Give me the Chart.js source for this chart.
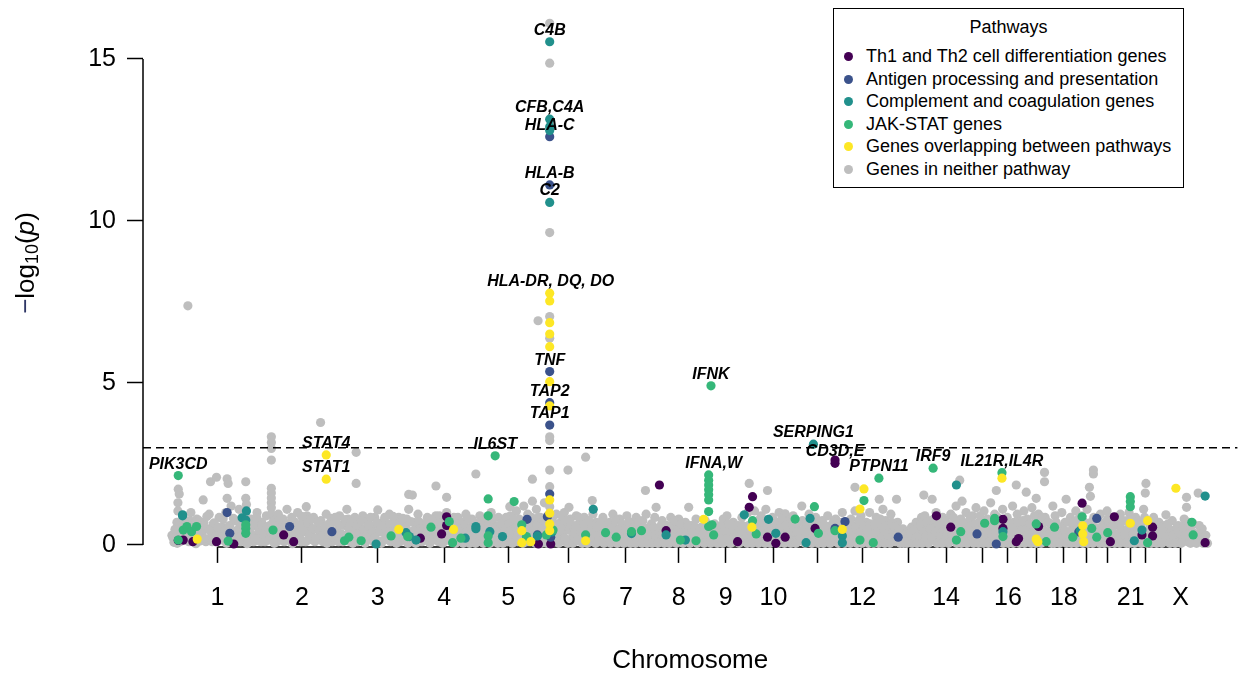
<!DOCTYPE html>
<html>
<head>
<meta charset="utf-8">
<script src="https://cdn.jsdelivr.net/npm/chart.js@4.4.1/dist/chart.umd.min.js"></script>
<style>
  html, body { margin:0; padding:0; background:#fff; }
  #wrap { position:relative; width:1242px; height:674px; }
  #legend { position:absolute; left:833px; top:8px; width:349px; height:178px; border:1.5px solid #000; background:#fff;
            font-family:"Liberation Sans", Arial, sans-serif; font-size:18px; color:#000; }
  #legend .title { position:absolute; left:0; width:100%; top:7px; text-align:center; line-height:22px; }
  #legend .row { position:absolute; left:0; height:22px; line-height:22px; white-space:nowrap; }
  #legend .dot { position:absolute; left:10px; top:7px; width:9px; height:9px; border-radius:50%; }
  #legend .txt { position:absolute; left:32px; top:0; }
</style>
</head>
<body>
<div id="wrap">
<canvas id="manhattan" width="1242" height="674"></canvas>
<div id="legend"></div>
</div>
<script>
// chromosome axis (cumulative genome position units)
const chromCentres = [131,385,613,813,1005,1188,1359,1518,1659,1803,1935,2070,2208,2322,2430,2508,2595,2676,2745,2808,2877,2922,3027];
const chromLabels = ["1","2","3","4","5","6","7","8","9","10","","12","","14","","16","","18","","","21","","X"];
const yTicks = [0,5,10,15];
const threshold = 3;

const pathwayNames = ["Th1 and Th2 cell differentiation genes","Antigen processing and presentation",
  "Complement and coagulation genes","JAK-STAT genes","Genes overlapping between pathways","Genes in neither pathway"];
const pathwayColours = ["#440154","#3B528B","#21908C","#35B779","#FDE725","#BEBEBE"];

// [position, -log10(p)]
const th1th2Genes = [[13,0.14],[28,0.15],[57,0.1],[128,0.1],[180,0.03],[330,0.31],[360,0.1],[741,0.21],[805,0.34],
  [820,0.87],[820,0.6],[1096,0.03],[1133,0.03],[1460,1.85],[1480,0.44],[1695,0.1],[1730,1.16],[1740,1.49],[1785,0.24],
  [1810,0.05],[1838,0.24],[1928,0.51],[1988,2.52],[1988,2.62],[2293,0.9],[2336,0.55],[2493,0.79],[2493,0.51],[2533,0.1],
  [2540,0.2],[2600,0.57],[2731,1.29],[2816,0.1],[2828,0.87],[2911,0.31],[2943,0.55],[2943,0.28],[3101,0.07]];
const antigenGenes = [[160,1.0],[168,0.36],[348,0.57],[475,0.41],[1062,0.79],[1093,0.31],[1133,0.24],[1123,0.87],
  [1130,12.6],[1130,11.11],[1130,5.35],[1130,4.39],[1130,3.7],[1130,1.57],[1988,0.51],[2018,0.72],[2178,0.24],
  [2415,0.34],[2473,0.03],[2721,0.4],[2775,0.82]];
const complementGenes = [[26,0.93],[26,0.9],[205,0.84],[218,1.05],[216,0.77],[608,0.03],[698,0.38],[708,0.26],[728,0.15],
  [876,0.21],[908,0.57],[908,0.5],[950,0.41],[988,0.26],[1093,0.28],[1137,0.4],[1130,15.53],[1130,13.14],[1130,12.91],
  [1130,12.79],[1130,10.57],[1261,1.1],[1376,0.35],[1480,0.31],[1538,0.15],[1715,0.93],[1788,0.79],[1810,0.36],
  [1901,0.07],[1913,0.82],[1923,3.11],[2010,0.28],[2010,0.07],[2353,1.85],[2493,0.41],[2726,0.45],[2888,0.13],
  [2911,0.46],[3101,1.51]];
const jakStatGenes = [[13,2.14],[13,0.15],[28,0.46],[39,0.57],[53,0.41],[68,0.57],[163,0.12],[216,0.51],[216,0.36],
  [216,0.62],[298,0.46],[513,0.13],[526,0.24],[563,0.13],[653,0.28],[703,0.26],[773,0.55],[828,0.72],[838,0.07],
  [863,0.21],[966,2.75],[945,1.42],[945,0.9],[945,0.28],[945,0.07],[1023,1.34],[1046,0.62],[1060,0.26],[1120,0.31],
  [1140,0.46],[1238,0.31],[1298,0.38],[1330,0.24],[1376,0.41],[1406,0.44],[1523,0.15],[1570,0.13],[1615,4.91],
  [1608,2.16],[1608,2.0],[1608,1.85],[1608,1.7],[1608,1.55],[1608,1.39],[1608,1.03],[1618,0.62],[1608,0.57],
  [1623,0.31],[1740,0.75],[1751,0.34],[1868,0.8],[1926,1.18],[1938,0.36],[1988,0.44],[2075,1.37],[2063,0.15],
  [2103,0.07],[2120,2.06],[2283,2.37],[2353,0.15],[2366,0.41],[2438,0.67],[2468,0.82],[2468,0.75],[2490,2.23],
  [2493,0.26],[2593,0.65],[2623,0.1],[2648,0.55],[2703,0.24],[2731,0.87],[2760,0.51],[2775,0.24],[2808,0.38],
  [2876,1.49],[2876,1.34],[2876,1.18],[2928,0.07],[3061,0.7],[3065,0.31]];
const overlapGenes = [[70,0.18],[458,2.78],[458,2.03],[676,0.48],[841,0.48],[1046,0.44],[1046,0.07],[1073,0.1],
  [1130,7.77],[1130,7.53],[1130,6.86],[1130,6.51],[1130,6.12],[1130,5.04],[1130,4.29],[1130,1.39],[1130,0.98],
  [1130,0.65],[1130,0.44],[1238,0.13],[1593,0.79],[1738,0.55],[2010,0.48],[2075,1.73],[2063,1.11],[2490,2.06],
  [2593,0.18],[2598,0.1],[2733,0.59],[2733,0.34],[2736,0.1],[2876,0.67],[2928,0.75],[3013,1.75]];

// genes in neither pathway, chromosomes 1-6
const otherGenesA = [[-6,0.3],[0,0.08],[6,0.35],[9,0.7],[12,1.05],[12,1.3],[13,1.72],[16,1.57],[15,0.5],[18,0.1],[24,0.3],
  [27,0.9],[30,0.62],[33,0.15],[39,0.45],[42,7.38],[45,0.1],[48,0.75],[51,1.0],[57,0.3],[60,0.55],[63,0.08],[69,0.8],
  [72,0.4],[78,0.12],[84,0.35],[88,1.39],[90,0.7],[96,0.1],[102,0.5],[106,0.95],[110,1.95],[112,0.25],[118,0.65],
  [124,0.1],[128,2.09],[130,0.4],[136,0.85],[140,0.15],[146,0.55],[150,0.3],[156,1.0],[160,2.04],[160,1.44],[163,1.9],
  [162,0.15],[168,0.6],[172,1.2],[176,0.3],[182,0.1],[186,0.75],[190,0.45],[196,1.1],[200,0.1],[204,0.6],[208,0.3],
  [214,0.9],[216,1.95],[216,1.44],[218,1.25],[222,0.12],[226,0.5],[232,0.8],[236,0.3],[240,0.1],[246,0.6],[250,1.0],
  [254,0.35],[258,0.12],[264,0.7],[268,0.45],[274,0.1],[278,0.9],[282,0.3],[288,0.6],[293,3.34],[293,3.16],[293,2.98],
  [293,2.62],[293,1.75],[293,1.6],[293,1.45],[293,1.3],[293,1.15],[293,0.95],[296,0.15],[300,0.75],[304,0.4],[310,0.1],
  [314,0.95],[318,0.55],[322,0.25],[328,0.8],[332,0.1],[336,0.45],[340,1.1],[346,0.65],[350,0.2],[354,0.85],[358,0.35],
  [364,0.1],[368,0.6],[372,1.0],[376,0.3],[382,0.1],[386,0.7],[392,0.4],[398,1.18],[400,0.9],[404,0.15],[410,0.55],
  [414,0.3],[420,0.85],[424,0.1],[430,0.5],[436,0.25],[441,3.78],[442,0.75],[448,0.1],[452,0.45],[458,0.95],[462,0.2],
  [466,0.65],[473,0.82],[476,0.1],[482,0.4],[488,0.7],[492,0.15],[498,0.9],[502,0.35],[508,0.1],[512,0.6],[518,0.3],
  [520,1.1],[524,0.8],[530,0.1],[536,0.5],[540,0.25],[544,0.85],[548,2.86],[548,1.9],[552,0.1],[556,0.6],[562,0.35],
  [568,0.9],[572,0.1],[578,0.45],[582,0.7],[588,0.2],[594,0.55],[600,0.1],[604,0.85],[608,0.35],[613,1.08],[616,0.6],
  [622,0.12],[626,0.4],[632,0.75],[636,0.2],[642,0.5],[648,0.95],[652,0.1],[656,0.35],[662,0.65],[666,0.15],[672,0.45],
  [676,0.85],[680,0.1],[686,0.3],[690,0.6],[696,0.15],[700,0.8],[706,1.56],[706,1.1],[710,0.4],[714,0.1],[717,1.54],
  [720,0.7],[724,0.25],[730,0.5],[734,0.95],[738,0.1],[744,0.35],[748,0.65],[754,0.15],[758,0.45],[762,0.85],[768,0.1],
  [772,0.3],[776,0.6],[782,0.2],[788,1.82],[788,0.9],[792,0.45],[796,0.1],[800,0.7],[806,0.3],[810,0.55],[814,0.12],
  [820,1.47],[820,1.0],[824,0.4],[830,0.75],[834,0.1],[840,0.3],[844,0.6],[850,0.15],[854,0.85],[858,0.45],[864,0.1],
  [868,0.7],[872,0.3],[878,0.95],[882,0.12],[886,0.5],[892,0.25],[896,0.8],[900,0.1],[904,0.4],[908,2.19],[910,0.65],
  [916,0.2],[920,0.9],[924,0.1],[928,0.5],[934,0.3],[938,0.75],[944,0.12],[948,0.45],[954,1.0],[958,0.2],[962,0.6],
  [968,0.1],[972,0.35],[976,0.85],[982,0.1],[986,0.5],[992,0.25],[996,0.75],[1002,0.1],[1006,0.4],[1010,1.18],[1012,0.9],
  [1016,0.15],[1020,0.6],[1026,0.3],[1030,1.05],[1034,0.1],[1038,0.8],[1042,0.45],[1048,0.15],[1052,1.2],[1054,0.65],
  [1058,0.3],[1064,0.95],[1068,0.1],[1072,0.5],[1078,2.03],[1078,1.35],[1080,0.75],[1084,0.2],[1090,1.1],[1094,0.4],
  [1098,0.12],[1102,0.85],[1106,0.6],[1110,0.25],[1114,1.3],[1116,0.1],[1120,0.5],[1124,0.9],
  [1130,16.1],[1130,14.87],[1130,9.64],[1130,7.05],[1095,6.92],[1130,6.38],[1130,3.34],[1130,3.22],[1130,2.31],
  [1130,1.8],[1130,1.18],[1130,0.75],
  [1136,0.3],[1140,0.65],[1146,0.1],[1150,0.95],[1154,0.4],[1160,0.15],[1164,0.7],[1170,0.3],[1174,1.0],[1178,0.1],
  [1182,0.5],[1185,2.31],[1188,1.16],[1192,0.8],[1196,0.2],[1202,0.55],[1206,0.1],[1210,0.9],[1216,0.35],[1220,0.65],
  [1226,0.12],[1230,0.45],[1234,0.85],[1238,2.71],[1240,0.25],[1246,0.6],[1250,0.1],[1254,0.4],[1258,1.37],[1260,0.95],
  [1266,0.15],[1270,0.7],[1274,0.35]];

// genes in neither pathway, chromosomes 7-X
const otherGenesB = [[1280,0.1],[1286,0.55],[1290,0.85],[1296,0.2],[1300,0.45],[1306,0.1],[1310,0.7],[1316,0.3],
  [1320,0.95],[1326,0.12],[1330,0.5],[1336,0.25],[1340,0.8],[1346,0.1],[1350,0.6],[1356,0.35],[1362,0.9],[1366,0.15],
  [1370,0.45],[1376,0.7],[1380,0.1],[1386,0.3],[1390,0.85],[1396,0.55],[1400,0.12],[1406,0.4],[1410,0.75],[1416,0.2],
  [1418,1.68],[1420,0.95],[1426,0.5],[1430,0.1],[1436,0.65],[1440,0.3],[1446,0.85],[1450,1.16],[1452,0.15],[1458,0.5],
  [1462,0.25],[1468,0.75],[1472,0.1],[1478,0.4],[1482,0.6],[1488,0.15],[1494,0.85],[1498,0.35],[1504,0.1],[1508,0.55],
  [1514,0.25],[1518,0.8],[1524,0.12],[1528,0.45],[1534,0.2],[1538,0.7],[1544,0.1],[1548,1.16],[1550,0.4],[1556,0.6],
  [1560,0.15],[1566,0.3],[1570,0.8],[1576,0.1],[1582,0.35],[1586,0.55],[1592,0.15],[1598,0.75],[1602,0.3],[1612,0.1],
  [1616,0.45],[1622,0.2],[1626,0.65],[1632,0.1],[1638,0.35],[1642,0.55],[1648,0.15],[1652,0.8],[1658,0.3],[1663,0.9],
  [1666,0.1],[1672,0.5],[1676,0.25],[1682,0.7],[1686,0.1],[1692,0.4],[1698,0.6],[1702,0.15],[1708,0.85],[1712,0.3],
  [1718,0.1],[1722,0.55],[1726,1.0],[1730,1.9],[1732,0.2],[1736,0.65],[1742,0.4],[1746,1.05],[1752,0.1],[1756,0.75],
  [1760,0.3],[1766,0.9],[1770,0.15],[1776,0.5],[1780,1.1],[1785,1.68],[1786,0.25],[1790,0.65],[1796,0.1],[1800,0.85],
  [1806,0.4],[1810,0.15],[1816,0.7],[1820,1.0],[1826,0.3],[1830,0.1],[1834,0.55],[1838,0.96],[1842,0.2],[1848,0.75],
  [1852,0.1],[1858,0.45],[1862,0.9],[1868,0.25],[1872,0.6],[1876,0.1],[1882,0.4],[1888,1.2],[1890,0.75],[1896,0.15],
  [1900,0.55],[1906,0.3],[1910,0.95],[1916,0.1],[1920,0.65],[1926,0.35],[1930,0.85],[1936,0.12],[1940,0.5],[1946,0.25],
  [1950,0.75],[1956,0.1],[1960,0.45],[1966,0.9],[1970,0.2],[1976,0.6],[1980,0.1],[1986,0.35],[1990,0.8],[1996,0.15],
  [2000,0.55],[2006,0.3],[2010,1.0],[2016,0.1],[2020,0.65],[2026,0.4],[2032,0.15],[2036,0.8],[2042,0.3],[2048,1.78],
  [2048,1.05],[2052,0.1],[2056,0.55],[2062,0.25],[2066,0.9],[2072,0.1],[2076,0.45],[2082,0.7],[2086,0.2],[2092,1.0],
  [2096,0.1],[2102,0.5],[2106,0.3],[2112,0.85],[2116,0.12],[2121,1.41],[2122,0.6],[2126,0.35],[2132,1.1],[2136,0.1],
  [2140,0.75],[2146,0.4],[2150,0.15],[2156,0.95],[2160,0.55],[2166,0.25],[2170,0.1],[2173,1.41],[2176,0.7],[2182,0.3],
  [2186,0.1],[2192,0.5],[2196,0.2],[2202,0.1],[2206,0.4],[2212,0.15],[2218,0.55],[2222,0.1],[2228,0.3],[2232,0.7],
  [2238,0.12],[2242,0.45],[2248,0.85],[2252,0.2],[2255,1.54],[2258,0.9],[2262,0.55],[2266,0.1],[2272,0.35],[2276,0.75],
  [2280,1.41],[2282,0.15],[2288,0.6],[2292,1.0],[2298,0.3],[2302,0.1],[2308,0.5],[2312,0.85],[2318,0.2],[2322,0.65],
  [2326,0.1],[2332,0.4],[2336,0.95],[2342,0.15],[2346,0.6],[2352,1.2],[2356,0.3],[2363,2.0],[2362,0.1],[2366,0.8],
  [2370,1.35],[2372,0.45],[2378,0.15],[2382,1.0],[2388,0.3],[2392,0.65],[2398,0.1],[2402,0.9],[2408,0.4],[2412,1.15],
  [2416,0.2],[2422,0.7],[2426,0.1],[2432,0.5],[2436,1.05],[2442,0.25],[2446,0.8],[2452,0.1],[2456,1.3],[2458,0.45],
  [2464,0.15],[2468,0.95],[2473,1.68],[2474,0.6],[2482,0.3],[2488,0.1],[2492,1.1],[2496,0.55],[2502,0.2],[2506,0.85],
  [2512,0.1],[2516,0.45],[2522,1.2],[2526,0.7],[2530,0.15],[2533,1.85],[2536,0.95],[2540,0.35],[2546,0.1],[2550,0.6],
  [2556,1.05],[2560,0.25],[2563,1.63],[2566,0.8],[2570,0.1],[2576,0.45],[2580,1.15],[2586,0.2],[2590,0.7],[2593,1.44],
  [2596,0.1],[2600,0.95],[2606,0.35],[2610,0.6],[2614,0.15],[2618,2.24],[2618,1.95],[2620,0.85],[2626,0.4],[2632,0.1],
  [2636,0.65],[2643,1.2],[2646,0.3],[2650,0.9],[2656,0.12],[2660,0.5],[2666,0.25],[2670,1.0],[2676,0.1],[2680,0.7],
  [2683,1.41],[2686,0.35],[2692,0.15],[2696,0.85],[2702,0.5],[2706,0.1],[2712,1.05],[2716,0.3],[2720,0.65],[2726,0.12],
  [2730,0.9],[2736,0.4],[2740,0.15],[2746,1.1],[2750,0.6],[2753,1.78],[2756,1.5],[2760,0.25],[2765,2.31],[2765,2.19],
  [2766,0.85],[2770,0.1],[2776,0.5],[2782,0.2],[2786,0.95],[2792,0.4],[2796,0.1],[2800,0.7],[2806,1.05],[2810,0.25],
  [2816,0.55],[2822,0.1],[2826,0.85],[2832,0.35],[2836,0.12],[2842,0.6],[2846,0.95],[2852,0.2],[2856,0.45],[2862,0.1],
  [2866,0.75],[2872,1.0],[2876,0.3],[2882,0.12],[2886,0.55],[2892,0.85],[2896,0.2],[2902,0.4],[2906,0.1],[2912,0.7],
  [2916,1.1],[2921,1.6],[2923,1.9],[2924,0.35],[2930,0.1],[2936,0.6],[2942,0.25],[2946,0.85],[2952,0.1],[2958,0.45],
  [2962,0.7],[2968,0.15],[2974,0.35],[2978,0.6],[2983,0.93],[2986,0.1],[2992,0.45],[2998,0.2],[3002,0.75],[3008,0.1],
  [3014,0.4],[3020,0.6],[3026,0.15],[3032,0.3],[3038,0.8],[3045,1.47],[3045,1.16],[3048,0.1],[3054,0.45],[3060,0.25],
  [3066,0.65],[3072,0.1],[3080,1.6],[3080,0.35],[3086,0.15],[3092,0.5],[3100,0.1]];

// more genes in neither pathway: the dense mass close to the axis
const otherGenesC = [[-3,0.22],[3,0.48],[10,0.05],[17,0.58],[21,0.33],[29,0.82],[35,0.15],[42,0.42],[50,0.65],[54,0.27],
  [62,0.52],[66,0.04],[75,0.75],[81,0.38],[87,0.6],[93,0.2],[99,0.88],[108,0.45],[115,0.1],[121,0.68],[127,0.3],[133,0.55],
  [143,0.22],[148,0.8],[154,0.45],[158,0.05],[165,0.58],[170,0.33],[179,0.82],[184,0.2],[193,0.42],[198,0.65],[202,0.27],
  [211,0.52],[220,0.04],[224,0.75],[229,0.38],[238,0.6],[243,0.2],[249,0.85],[256,0.45],[262,0.1],[266,0.6],[271,0.3],
  [280,0.55],[285,0.15],[291,0.4],[298,0.7],[302,0.05],[307,0.58],[312,0.33],[320,0.8],[325,0.15],[330,0.45],[338,0.65],
  [343,0.27],[348,0.5],[356,0.04],[361,0.72],[366,0.38],[375,0.6],[379,0.2],[384,0.88],[390,0.45],[396,0.1],[402,0.68],
  [407,0.3],[412,0.78],[418,0.5],[427,0.2],[433,0.7],[438,0.45],[445,0.28],[455,0.58],[460,0.05],[465,0.38],[470,0.62],
  [479,0.25],[485,0.85],[490,0.45],[495,0.1],[500,0.62],[506,0.3],[515,0.78],[522,0.15],[527,0.5],[533,0.7],[538,0.05],
  [546,0.4],[550,0.62],[559,0.22],[565,0.75],[570,0.48],[575,0.05],[580,0.3],[586,0.62],[591,0.85],[597,0.4],[603,0.22],
  [610,0.7],[619,0.45],[624,0.05],[629,0.6],[634,0.85],[639,0.3],[645,0.15],[650,0.65],[654,0.4],[659,0.88],[664,0.25],
  [669,0.05],[674,0.6],[683,0.45],[688,0.82],[693,0.25],[698,0.55],[703,0.05],[712,0.72],[716,0.3],[722,0.45],[727,0.05],
  [732,0.28],[736,0.72],[741,0.48],[746,0.1],[751,0.55],[756,0.3],[760,0.62],[765,0.45],[770,0.05],[775,0.8],[779,0.15],
  [785,0.45],[790,0.68],[794,0.25],[798,0.9],[803,0.5],[808,0.05],[812,0.78],[817,0.3],[822,0.62],[827,0.2],[832,0.5],
  [837,0.35],[842,0.85],[847,0.05],[852,0.4],[857,0.65],[861,0.25],[866,0.5],[870,0.05],[875,0.6],[880,0.4],[885,0.8],
  [889,0.05],[894,0.55],[898,0.3],[902,0.7],[907,0.05],[912,0.45],[918,0.55],[922,0.3],[926,0.75],[931,0.05],[936,0.52],
  [941,0.3],[946,0.65],[951,0.05],[956,0.4],[960,0.8],[965,0.25],[970,0.55],[974,0.05],[979,0.3],[984,0.65],[989,0.05],
  [994,0.45],[999,0.85],[1004,0.25],[1008,0.65],[1014,0.45],[1018,0.05],[1023,0.8],[1028,0.55],[1032,0.25],[1036,0.45],
  [1040,0.65],[1045,0.3],[1050,0.05],[1056,0.45],[1061,0.1],[1066,0.65],[1070,0.3],[1075,0.85],[1082,0.45],[1087,0.05],
  [1092,0.62],[1096,0.85],[1100,0.3],[1104,0.05],[1108,0.45],[1112,0.75],[1118,0.25],[1122,0.05],[1126,0.6],[1134,0.15],
  [1138,0.85],[1143,0.45],[1148,0.25],[1152,0.65],[1157,0.05],[1162,0.45],[1167,0.9],[1172,0.6],[1176,0.2],[1180,0.75],
  [1184,0.05],[1190,0.45],[1194,0.62],[1199,0.05],[1204,0.35],[1208,0.6],[1213,0.15],[1218,0.85],[1223,0.45],[1228,0.05],
  [1232,0.62],[1236,0.3],[1243,0.05],[1248,0.75],[1252,0.25],[1256,0.6],[1263,0.45],[1268,0.05],[1272,0.55],[1277,0.25],
  [1283,0.7],[1288,0.35],[1293,0.05],[1298,0.6],[1303,0.25],[1308,0.45],[1313,0.05],[1318,0.6],[1323,0.35],[1328,0.75],
  [1333,0.05],[1338,0.45],[1343,0.25],[1348,0.65],[1353,0.05],[1358,0.5],[1364,0.25],[1368,0.7],[1373,0.05],[1378,0.35],
  [1383,0.55],[1388,0.05],[1393,0.25],[1398,0.75],[1403,0.3],[1408,0.05],[1413,0.55],[1418,0.35],[1423,0.05],[1428,0.3],
  [1433,0.45],[1438,0.05],[1443,0.55],[1448,0.3],[1455,0.05],[1460,0.35],[1465,0.6],[1470,0.35],[1475,0.05],[1480,0.6],
  [1485,0.35],[1490,0.05],[1496,0.6],[1501,0.25],[1506,0.75],[1511,0.05],[1516,0.45],[1521,0.3],[1526,0.65],[1531,0.05],
  [1536,0.4],[1541,0.3],[1546,0.6],[1552,0.05],[1558,0.45],[1563,0.25],[1568,0.55],[1573,0.05],[1578,0.4],[1584,0.1],
  [1589,0.3],[1595,0.05],[1600,0.5],[1605,0.2],[1610,0.3],[1614,0.05],[1620,0.55],[1628,0.3],[1634,0.05],[1640,0.2],
  [1645,0.6],[1650,0.05],[1655,0.45],[1661,0.2],[1668,0.65],[1674,0.05],[1679,0.45],[1684,0.25],[1689,0.6],[1694,0.3],
  [1700,0.05],[1705,0.45],[1710,0.6],[1715,0.2],[1720,0.35],[1724,0.05],[1728,0.6],[1734,0.4],[1739,0.05],[1744,0.6],
  [1749,0.25],[1754,0.5],[1758,0.05],[1763,0.45],[1768,0.7],[1773,0.3],[1778,0.05],[1783,0.55],[1788,0.4],[1793,0.05],
  [1798,0.6],[1803,0.25],[1808,0.7],[1813,0.45],[1818,0.05],[1823,0.55],[1828,0.8],[1832,0.3],[1836,0.05],[1840,0.6],
  [1845,0.45],[1850,0.3],[1855,0.05],[1860,0.6],[1865,0.4],[1870,0.05],[1874,0.4],[1879,0.7],[1884,0.2],[1892,0.45],
  [1898,0.05],[1903,0.65],[1908,0.2],[1913,0.45],[1918,0.05],[1923,0.7],[1928,0.25],[1933,0.55],[1938,0.05],[1943,0.7],
  [1948,0.4],[1953,0.05],[1958,0.6],[1963,0.3],[1968,0.5],[1973,0.05],[1978,0.4],[1983,0.7],[1988,0.2],[1993,0.55],
  [1998,0.05],[2003,0.4],[2008,0.7],[2013,0.3],[2018,0.05],[2023,0.6],[2029,0.45],[2034,0.05],[2039,0.6],[2044,0.3],
  [2050,0.5],[2054,0.05],[2059,0.75],[2064,0.4],[2069,0.05],[2074,0.6],[2079,0.25],[2084,0.45],[2089,0.05],[2094,0.65],
  [2099,0.3],[2104,0.05],[2109,0.65],[2114,0.4],[2119,0.05],[2124,0.8],[2129,0.25],[2134,0.5],[2138,0.05],[2143,0.6],
  [2148,0.3],[2153,0.05],[2158,0.7],[2163,0.4],[2168,0.55],[2174,0.2],[2179,0.45],[2184,0.05],[2189,0.3],[2194,0.05],
  [2199,0.3],[2204,0.05],[2209,0.25],[2215,0.35],[2220,0.05],[2225,0.45],[2230,0.2],[2235,0.05],[2240,0.3],[2245,0.6],
  [2250,0.05],[2254,0.4],[2260,0.25],[2264,0.7],[2269,0.05],[2274,0.5],[2279,0.25],[2285,0.8],[2290,0.4],[2295,0.05],
  [2300,0.65],[2305,0.3],[2310,0.05],[2315,0.45],[2320,0.75],[2324,0.3],[2329,0.05],[2334,0.6],[2339,0.3],[2344,0.85],
  [2349,0.45],[2354,0.05],[2359,0.65],[2364,0.35],[2368,0.05],[2374,0.7],[2380,0.4],[2385,0.05],[2390,0.5],[2395,0.85],
  [2400,0.25],[2405,0.05],[2410,0.65],[2414,0.45],[2419,0.05],[2424,0.9],[2429,0.3],[2434,0.05],[2439,0.55],[2444,0.45],
  [2449,0.05],[2454,0.65],[2460,0.3],[2466,0.05],[2471,0.45],[2477,0.85],[2480,0.1],[2485,0.65],[2490,0.4],[2494,0.05],
  [2499,0.7],[2504,0.45],[2509,0.05],[2514,0.65],[2519,0.3],[2524,0.05],[2528,0.5],[2538,0.7],[2543,0.05],[2548,0.45],
  [2553,0.75],[2558,0.05],[2562,0.45],[2568,0.3],[2573,0.65],[2578,0.05],[2583,0.4],[2588,0.9],[2592,0.05],[2598,0.55],
  [2603,0.2],[2608,0.05],[2612,0.85],[2617,0.45],[2623,0.3],[2629,0.7],[2634,0.35],[2639,0.05],[2641,0.6],[2648,0.05],
  [2653,0.7],[2658,0.35],[2663,0.05],[2668,0.55],[2673,0.3],[2678,0.45],[2684,0.05],[2689,0.7],[2694,0.4],[2699,0.05],
  [2704,0.7],[2709,0.3],[2714,0.05],[2718,0.5],[2723,0.85],[2728,0.3],[2733,0.05],[2738,0.7],[2743,0.3],[2748,0.05],
  [2752,0.4],[2758,0.7],[2763,0.05],[2768,0.55],[2773,0.35],[2778,0.8],[2784,0.05],[2789,0.55],[2794,0.3],[2798,0.05],
  [2803,0.45],[2808,0.8],[2813,0.05],[2819,0.35],[2824,0.6],[2829,0.05],[2834,0.8],[2839,0.3],[2844,0.05],[2849,0.5],
  [2854,0.75],[2859,0.3],[2864,0.05],[2869,0.5],[2874,0.05],[2879,0.85],[2884,0.35],[2889,0.05],[2894,0.55],[2899,0.7],
  [2904,0.3],[2909,0.05],[2914,0.45],[2919,0.85],[2926,0.05],[2933,0.4],[2939,0.05],[2944,0.7],[2949,0.35],[2955,0.05],
  [2960,0.25],[2965,0.55],[2971,0.05],[2976,0.45],[2981,0.25],[2989,0.65],[2995,0.05],[3000,0.45],[3005,0.3],[3011,0.05],
  [3017,0.55],[3023,0.35],[3029,0.05],[3035,0.55],[3041,0.3],[3051,0.7],[3057,0.05],[3063,0.4],[3069,0.3],[3075,0.05],
  [3083,0.6],[3089,0.35],[3095,0.05],[3103,0.3],[3108,0.05]];

// labelled genes and the point each label sits over
const geneLabels = ["PIK3CD","STAT4","STAT1","IL6ST","C4B","CFB,C4A","HLA-C","HLA-B","C2","HLA-DR, DQ, DO","TNF","TAP2","TAP1",
  "IFNK","IFNA,W","SERPING1","CD3D,E","PTPN11","IRF9","IL21R,IL4R"];
const geneLabelAt = [[13,2.14],[458,2.78],[458,2.03],[966,2.75],[1130,15.53],[1130,13.14],[1130,12.6],[1130,11.11],
  [1130,10.57],[1133,7.77],[1130,5.35],[1130,4.39],[1130,3.7],[1615,4.91],[1623,2.16],[1923,3.11],[1988,2.52],
  [2120,2.06],[2283,2.37],[2490,2.23]];

const FONT = '"Liberation Sans", Arial, sans-serif';
Chart.defaults.font.family = FONT;
Chart.defaults.color = "#000";

const seriesData = [th1th2Genes, antigenGenes, complementGenes, jakStatGenes, overlapGenes,
  otherGenesA.concat(otherGenesB, otherGenesC)];
const drawOrder = [4, 3, 2, 1, 0, 5];   // yellow on top, grey at the back

const datasets = seriesData.map((pts, i) => ({
  label: pathwayNames[i],
  data: pts.map(p => ({x: p[0], y: p[1]})),
  backgroundColor: pathwayColours[i],
  borderColor: pathwayColours[i],
  borderWidth: 0,
  pointRadius: 4.6,
  pointHoverRadius: 4.6,
  order: drawOrder[i],
  clip: false
}));

// axis lines only span first..last tick, like base R
const axisLines = {
  id: "axisLines",
  beforeDatasetsDraw(chart) {
    const {ctx, chartArea, scales: {x, y}} = chart;
    ctx.save();
    ctx.strokeStyle = "#000";
    ctx.lineWidth = 1.5;
    ctx.beginPath();
    ctx.moveTo(x.getPixelForValue(chromCentres[0]), chartArea.bottom);
    ctx.lineTo(x.getPixelForValue(chromCentres[chromCentres.length - 1]), chartArea.bottom);
    ctx.moveTo(chartArea.left, y.getPixelForValue(yTicks[0]));
    ctx.lineTo(chartArea.left, y.getPixelForValue(yTicks[yTicks.length - 1]));
    ctx.stroke();
    ctx.restore();
  }
};

const annotations = {
  id: "annotations",
  afterDatasetsDraw(chart) {
    const {ctx, chartArea, scales: {x, y}} = chart;
    ctx.save();
    // significance threshold
    ctx.strokeStyle = "#000";
    ctx.lineWidth = 1.5;
    ctx.setLineDash([8, 5]);
    ctx.beginPath();
    ctx.moveTo(chartArea.left, y.getPixelForValue(threshold));
    ctx.lineTo(chartArea.right, y.getPixelForValue(threshold));
    ctx.stroke();
    ctx.setLineDash([]);
    // gene names
    ctx.fillStyle = "#000";
    ctx.font = "italic bold 16px " + FONT;
    ctx.textAlign = "center";
    ctx.textBaseline = "middle";
    geneLabels.forEach((g, i) => {
      const px = x.getPixelForValue(geneLabelAt[i][0]);
      const py = y.getPixelForValue(geneLabelAt[i][1]);
      ctx.fillText(g, px, py - 11.5);
    });
    ctx.restore();
  },
  afterDraw(chart) {
    // y axis title: -log10(p)
    const {ctx} = chart;
    ctx.save();
    ctx.translate(27, 263);
    ctx.rotate(-Math.PI / 2);
    ctx.textBaseline = "middle";
    ctx.textAlign = "left";
    const big = "26px " + FONT, small = "18px " + FONT, ital = "italic 26px " + FONT;
    const parts = [["\u2212", big, 0, "#2f3766"], ["log", big, 0, "#000"], ["10", small, 6, "#000"],
                   ["(", big, 0, "#000"], ["p", ital, 0, "#000"], [")", big, 0, "#000"]];
    let w = 0;
    parts.forEach(p => { ctx.font = p[1]; w += ctx.measureText(p[0]).width; });
    let cx = -w / 2;
    parts.forEach(p => {
      ctx.font = p[1];
      ctx.fillStyle = p[3];
      ctx.fillText(p[0], cx, p[2]);
      cx += ctx.measureText(p[0]).width;
    });
    ctx.restore();
  }
};

new Chart(document.getElementById("manhattan"), {
  type: "scatter",
  data: { datasets },
  options: {
    responsive: false,
    animation: false,
    devicePixelRatio: 1,
    events: [],
    layout: { padding: { top: 10, right: 2, left: 0, bottom: 0 } },
    plugins: { legend: { display: false }, tooltip: { enabled: false } },
    scales: {
      x: {
        type: "linear",
        min: -93,
        max: 3198,
        afterBuildTicks: s => { s.ticks = chromCentres.map(v => ({value: v})); },
        afterFit: s => { s.height = 127.1; s.paddingLeft = 0; s.paddingRight = 0; },
        ticks: {
          autoSkip: false, maxRotation: 0, minRotation: 0, padding: 20,
          font: { size: 25 }, color: "#000",
          callback: (v, i) => chromLabels[i]
        },
        grid: { drawOnChartArea: false, drawTicks: true, tickLength: 16, tickColor: "#000", tickWidth: 1.5 },
        border: { display: false },
        title: { display: true, text: "Chromosome", font: { size: 26, lineHeight: 1 }, padding: { top: 0, bottom: 0 }, color: "#000" }
      },
      y: {
        min: -0.06,
        max: 16.51,
        afterBuildTicks: s => { s.ticks = yTicks.map(v => ({value: v})); },
        afterFit: s => { s.width = 143; s.paddingTop = 0; s.paddingBottom = 0; },
        ticks: { padding: 11, font: { size: 25 }, color: "#000" },
        grid: { drawOnChartArea: false, drawTicks: true, tickLength: 16, tickColor: "#000", tickWidth: 1.5 },
        border: { display: false }
      }
    }
  },
  plugins: [axisLines, annotations]
});

// legend box
const legend = document.getElementById("legend");
legend.innerHTML = '<div class="title">Pathways</div>' + pathwayNames.map((n, i) =>
  '<div class="row" style="top:' + (36 + i * 22.5) + 'px"><span class="dot" style="background:' + pathwayColours[i] +
  '"></span><span class="txt">' + n + '</span></div>').join("");
</script>
</body>
</html>
